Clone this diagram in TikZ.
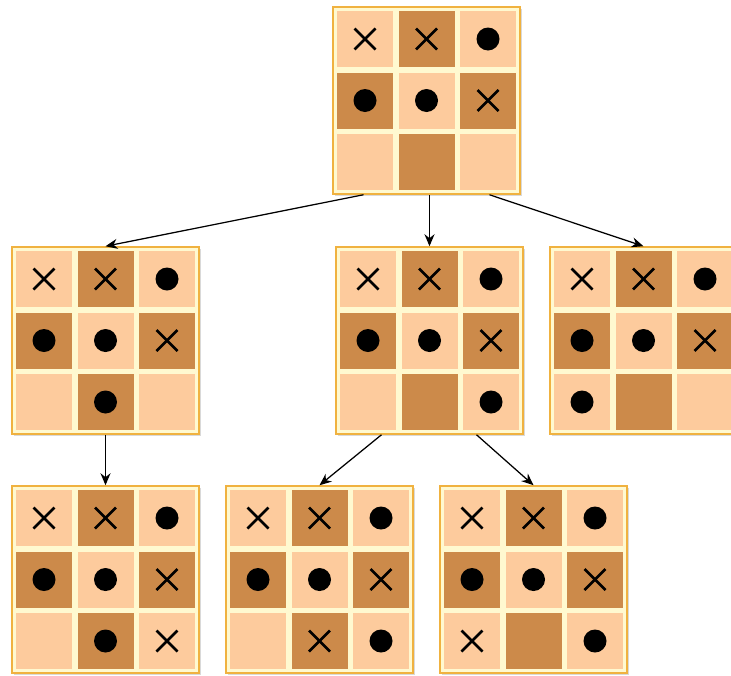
\documentclass[tikz,border=0pt]{standalone}
\usetikzlibrary{arrows.meta,shadows}
\definecolor{lightcell}{RGB}{253,203,157}
\definecolor{darkcell}{RGB}{204,138,74}
\definecolor{creamgap}{RGB}{255,249,208}
\definecolor{frameorange}{RGB}{240,178,64}
\tikzset{
  boardframe/.style={rectangle,draw=frameorange,line width=1.5pt,fill=creamgap,
    minimum width=187pt,minimum height=187pt,inner sep=0pt,
    drop shadow={shadow xshift=2pt,shadow yshift=-2pt,opacity=0.3,fill=black!50}},
  xmark/.style={line width=2.7pt,black},
  link/.style={line width=1.25pt,black,-{Stealth[length=12pt,width=10pt]}}
}
\newcommand\myboard[4]{%
  \node[boardframe] (#1) at ({#2+93.5},{-(#3+93.5)}) {};
  \foreach \m [count=\i from 0] in {#4} {
    \pgfmathtruncatemacro\rr{floor(\i/3)}
    \pgfmathtruncatemacro\cc{\i-3*\rr}
    \pgfmathsetmacro\cx{#2+32+61.5*\cc}
    \pgfmathsetmacro\cy{-(#3+32+61.5*\rr)}
    \pgfmathtruncatemacro\parity{mod(\rr+\cc,2)}
    \ifnum\parity=1 \def\cellcol{darkcell}\else\def\cellcol{lightcell}\fi
    \fill[\cellcol] (\cx-28,\cy-28) rectangle (\cx+28,\cy+28);
    \if x\m
      \draw[xmark] (\cx-10.5,\cy-10.5) -- (\cx+10.5,\cy+10.5);
      \draw[xmark] (\cx-10.5,\cy+10.5) -- (\cx+10.5,\cy-10.5);
    \fi
    \if o\m
      \fill[black] (\cx,\cy) circle (11.5);
    \fi
  }
}
\begin{document}
\begin{tikzpicture}[x=1pt,y=1pt]
\useasboundingbox (0,0) rectangle (731,-675);
\myboard{top}{333}{7}{x,x,o,o,o,x,n,n,n}
\myboard{left}{12}{247}{x,x,o,o,o,x,n,o,n}
\myboard{mid}{336}{247}{x,x,o,o,o,x,n,n,o}
\myboard{right}{550}{247}{x,x,o,o,o,x,o,n,n}
\myboard{bl}{12}{486}{x,x,o,o,o,x,n,o,x}
\myboard{bm}{226}{486}{x,x,o,o,o,x,n,x,o}
\myboard{br}{440}{486}{x,x,o,o,o,x,x,n,o}
\draw[link] ([xshift=-63pt]top.south) -- (left.north);
\draw[link] (top.south -| mid.north) -- (mid.north);
\draw[link] ([xshift=63pt]top.south) -- (right.north);
\draw[link] (left.south) -- (bl.north);
\draw[link] ([xshift=-48pt]mid.south) -- (bm.north);
\draw[link] ([xshift=47pt]mid.south) -- (br.north);
\end{tikzpicture}
\end{document}
